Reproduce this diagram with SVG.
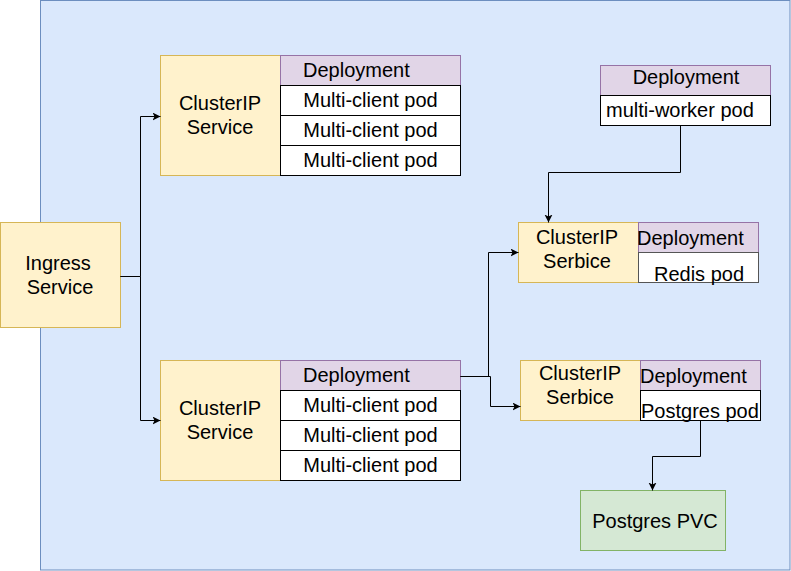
<svg xmlns="http://www.w3.org/2000/svg" width="791" height="571" viewBox="0 0 791 571">
<style>
  text { font-family: "Liberation Sans", Arial, Helvetica, sans-serif; font-size: 20px; fill: #000; }
  .mid { text-anchor: middle; }
  .svc { fill: #fff2cc; stroke: #d6b656; stroke-width: 1; }
  .dep { fill: #e1d5e7; stroke: #9673a6; stroke-width: 1; }
  .pod { fill: #ffffff; stroke: #000000; stroke-width: 1; }
  .pvc { fill: #d5e8d4; stroke: #82b366; stroke-width: 1; }
  .edge { fill: none; stroke: #000; stroke-width: 1; marker-end: url(#arr); }
</style>
<defs>
  <marker id="arr" markerUnits="userSpaceOnUse" markerWidth="10" markerHeight="10" refX="8" refY="4" orient="auto">
    <path d="M0,0 L8,4 L0,8 L2,4 z" fill="#000"/>
  </marker>
</defs>
<rect id="cluster" x="40.5" y="0.5" width="749.5" height="569.5" fill="#dae8fc" stroke="#6c8ebf"/>

<g id="ingress">
  <rect class="svc" x="0.5" y="222.5" width="120" height="105"/>
  <text class="mid" x="58" y="270">Ingress</text>
  <text class="mid" x="60" y="294">Service</text>
</g>

<g id="client-top">
  <rect class="svc" x="160.5" y="55.5" width="120" height="120"/>
  <text class="mid" x="220" y="110">ClusterIP</text>
  <text class="mid" x="220" y="134">Service</text>
  <rect class="dep" x="280.5" y="55.5" width="180" height="30"/>
  <text x="303" y="77">Deployment</text>
  <rect class="pod" x="280.5" y="85.5" width="180" height="30"/>
  <text class="mid" x="370.5" y="107">Multi-client pod</text>
  <rect class="pod" x="280.5" y="115.5" width="180" height="30"/>
  <text class="mid" x="370.5" y="137">Multi-client pod</text>
  <rect class="pod" x="280.5" y="145.5" width="180" height="30"/>
  <text class="mid" x="370.5" y="167">Multi-client pod</text>
</g>

<g id="client-bottom">
  <rect class="svc" x="160.5" y="360.5" width="120" height="120"/>
  <text class="mid" x="220" y="415">ClusterIP</text>
  <text class="mid" x="220" y="439">Service</text>
  <rect class="dep" x="280.5" y="360.5" width="180" height="30"/>
  <text x="303" y="382">Deployment</text>
  <rect class="pod" x="280.5" y="390.5" width="180" height="30"/>
  <text class="mid" x="370.5" y="412">Multi-client pod</text>
  <rect class="pod" x="280.5" y="420.5" width="180" height="30"/>
  <text class="mid" x="370.5" y="442">Multi-client pod</text>
  <rect class="pod" x="280.5" y="450.5" width="180" height="30"/>
  <text class="mid" x="370.5" y="472">Multi-client pod</text>
</g>

<g id="worker">
  <rect class="dep" x="600.5" y="65.5" width="170" height="30"/>
  <text class="mid" x="686" y="84">Deployment</text>
  <rect class="pod" x="600.5" y="95.5" width="170" height="30"/>
  <text x="606" y="117">multi-worker pod</text>
</g>

<g id="redis">
  <rect class="svc" x="518.5" y="222.5" width="120" height="60"/>
  <text class="mid" x="577" y="244">ClusterIP</text>
  <text class="mid" x="577" y="268">Serbice</text>
  <rect class="dep" x="638.5" y="222.5" width="120" height="30"/>
  <text x="637" y="245">Deployment</text>
  <rect x="638.5" y="252.5" width="120" height="30" fill="#fff" stroke="#555"/>
  <text class="mid" x="699" y="281">Redis pod</text>
</g>

<g id="postgres">
  <rect class="svc" x="520.5" y="360.5" width="120" height="60"/>
  <text class="mid" x="580" y="380">ClusterIP</text>
  <text class="mid" x="580" y="404">Serbice</text>
  <rect class="dep" x="640.5" y="360.5" width="120" height="30"/>
  <text x="640" y="383">Deployment</text>
  <rect class="pod" x="640.5" y="390.5" width="120" height="30"/>
  <text x="641" y="418">Postgres pod</text>
</g>

<g id="pvc">
  <rect class="pvc" x="580.5" y="490.5" width="145" height="60"/>
  <text class="mid" x="655" y="528">Postgres PVC</text>
</g>

<g id="connectors">
  <path class="edge" d="M120.5,276.5 H140.5 V116.5 H160.5"/>
  <path class="edge" d="M120.5,276.5 H140.5 V420.5 H160.5"/>
  <path class="edge" d="M460.5,376.5 H488.5 V252.5 H518.5"/>
  <path class="edge" d="M460.5,376.5 H490.5 V406.5 H520.5"/>
  <path class="edge" d="M680.5,125.5 V172.5 H548.5 V222.5"/>
  <path class="edge" d="M700.5,420.5 V456.5 H652.5 V490.5"/>
</g>
</svg>
